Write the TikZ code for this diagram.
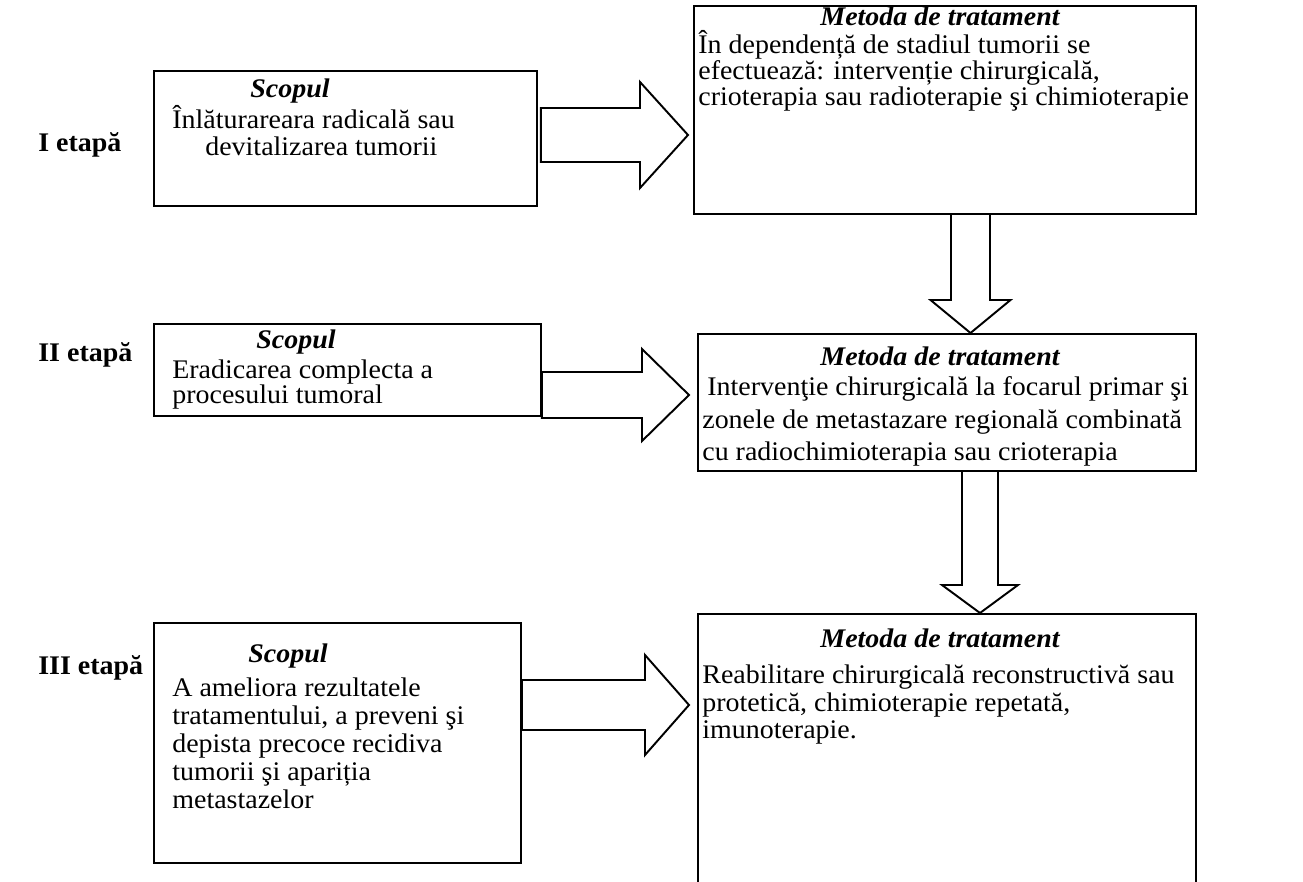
\documentclass[tikz,border=0pt]{standalone}
\usepackage{fontspec}
\setmainfont{Liberation Serif}[FakeStretch=1.04]
\usetikzlibrary{calc}

\begin{document}
\begin{tikzpicture}[
  x=0.02cm, y=-0.02cm,
  box/.style={rectangle, draw, line width=1.1pt, anchor=north west, inner sep=0pt},
  txt/.style={anchor=base west, inner sep=0pt, font=\fontsize{15.3}{16}\selectfont},
  ttl/.style={anchor=base, inner sep=0pt, font=\fontsize{15.3}{16}\selectfont\bfseries\itshape},
  etapa/.style={anchor=base west, inner sep=0pt, font=\fontsize{15.3}{16}\selectfont\bfseries},
  blk/.style={draw, line width=1.1pt, line join=miter}
]
\useasboundingbox (0,0) rectangle (1303,882);

% etapele
\node (e1) [etapa] at (38,152) {I etapă};
\node (e2) [etapa] at (38,361) {II etapă};
\node (e3) [etapa] at (38,674) {III etapă};

% scopul
\node (s1) [box, minimum width=7.66cm, minimum height=2.7cm] at (153,70) {};
\node (s2) [box, minimum width=7.74cm, minimum height=1.84cm] at (153,323) {};
\node (s3) [box, minimum width=7.34cm, minimum height=4.8cm] at (153,622) {};

% metoda de tratament
\node (m1) [box, minimum width=10.04cm, minimum height=4.16cm] at (693,5) {};
\node (m2) [box, minimum width=9.96cm, minimum height=2.74cm] at (697,333) {};
\node (m3) [box, minimum width=9.96cm, minimum height=5.9cm] at (697,613) {};

% texte I
\node (s1t) [ttl] at (290,98) {Scopul};
\node (s1a) [txt] at (172,129) {Înlăturareara radicală sau};
\node (s1b) [txt] at (205,156) {devitalizarea tumorii};
\node (m1t) [ttl] at (940,26) {Metoda de tratament};
\node (m1a) [txt] at (698,54) {În dependență de stadiul tumorii se};
\node (m1b) [txt] at (698,80) {efectuează: intervenție chirurgicală,};
\node (m1c) [txt] at (698,106) {crioterapia sau radioterapie şi chimioterapie};

% texte II
\node (s2t) [ttl] at (296,348) {Scopul};
\node (s2a) [txt] at (172,378) {Eradicarea complecta a};
\node (s2b) [txt] at (172,403) {procesului tumoral};
\node (m2t) [ttl] at (940,365) {Metoda de tratament};
\node (m2a) [txt] at (707,395) {Intervenţie chirurgicală la focarul primar şi};
\node (m2b) [txt] at (702,428) {zonele de metastazare regională combinată};
\node (m2c) [txt] at (702,460) {cu radiochimioterapia sau crioterapia};

% texte III
\node (s3t) [ttl] at (288,662) {Scopul};
\node (s3a) [txt] at (172,696) {A ameliora rezultatele};
\node (s3b) [txt] at (172,724) {tratamentului, a preveni şi};
\node (s3c) [txt] at (172,752) {depista precoce recidiva};
\node (s3d) [txt] at (172,780) {tumorii şi apariția};
\node (s3e) [txt] at (172,808) {metastazelor};
\node (m3t) [ttl] at (940,647) {Metoda de tratament};
\node (m3a) [txt] at (702,683) {Reabilitare chirurgicală reconstructivă sau};
\node (m3b) [txt] at (702,711) {protetică, chimioterapie repetată,};
\node (m3c) [txt] at (702,738) {imunoterapie.};

% sageti spre dreapta
\coordinate (y1) at (0,135);
\coordinate (y2) at (0,395);
\coordinate (y3) at (0,705);
\draw [blk] ($(s1.east |- y1)+(3,-27)$) -- ($(m1.west |- y1)+(-53,-27)$) -- ++(0,-26)
  -- ($(m1.west |- y1)+(-5,0)$) -- ($(m1.west |- y1)+(-53,53)$) -- ++(0,-26)
  -- ($(s1.east |- y1)+(3,27)$) -- cycle;
\draw [blk] ($(s2.east |- y2)+(0,-23)$) -- ($(m2.west |- y2)+(-55,-23)$) -- ++(0,-23)
  -- ($(m2.west |- y2)+(-8,0)$) -- ($(m2.west |- y2)+(-55,46)$) -- ++(0,-23)
  -- ($(s2.east |- y2)+(0,23)$) -- cycle;
\draw [blk] ($(s3.east |- y3)+(0,-25)$) -- ($(m3.west |- y3)+(-52,-25)$) -- ++(0,-25)
  -- ($(m3.west |- y3)+(-8,0)$) -- ($(m3.west |- y3)+(-52,50)$) -- ++(0,-25)
  -- ($(s3.east |- y3)+(0,25)$) -- cycle;

% sageti in jos
\coordinate (x1) at (970.5,0);
\coordinate (x2) at (980,0);
\draw [blk] ($(m1.south -| x1)+(-19.5,0)$) -- ($(m2.north -| x1)+(-19.5,-33)$) -- ++(-20.5,0)
  -- (m2.north -| x1) -- ($(m2.north -| x1)+(40,-33)$) -- ++(-20.5,0)
  -- ($(m1.south -| x1)+(19.5,0)$);
\draw [blk] ($(m2.south -| x2)+(-18,0)$) -- ($(m3.north -| x2)+(-18,-28)$) -- ++(-20,0)
  -- (m3.north -| x2) -- ($(m3.north -| x2)+(38,-28)$) -- ++(-20,0)
  -- ($(m2.south -| x2)+(18,0)$);

\end{tikzpicture}
\end{document}
